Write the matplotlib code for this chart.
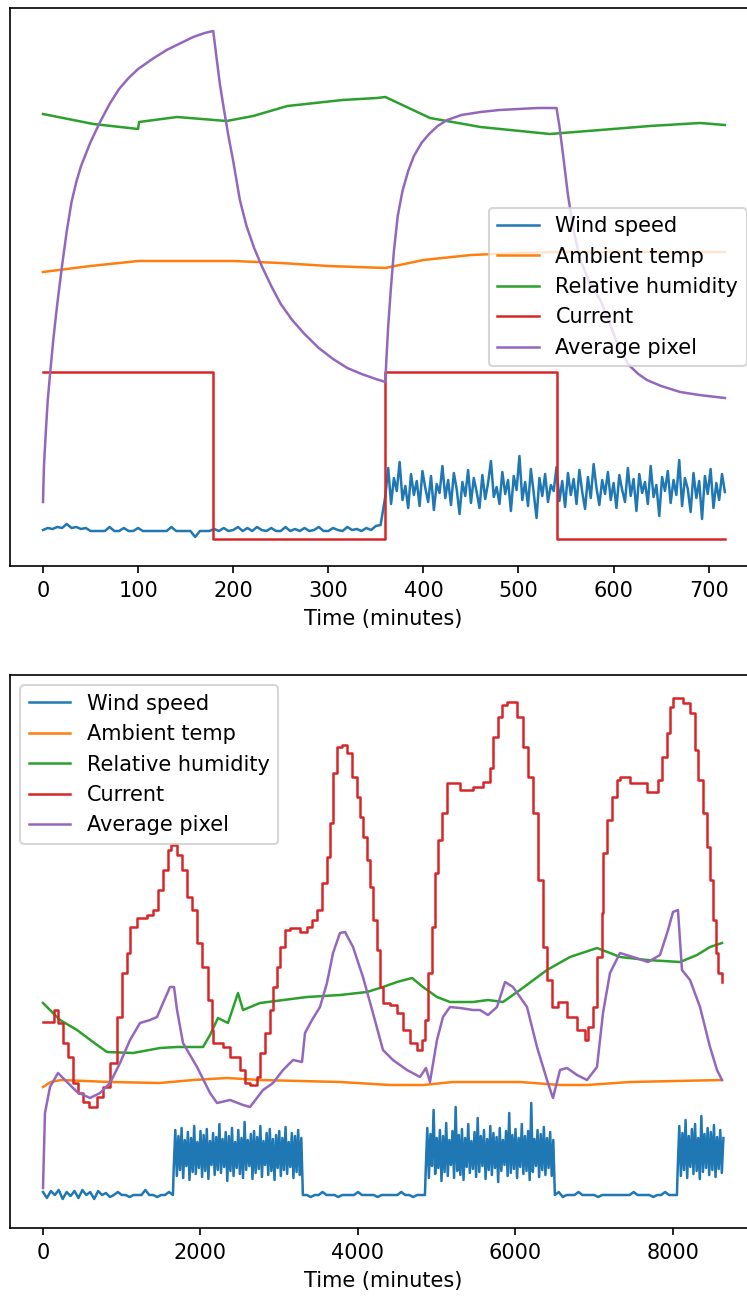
import numpy as np
import matplotlib.pyplot as plt

# ---- top panel: 12 hour run (arbitrary units) ----
top_wind_base_t = np.arange(0, 360, 5)
top_wind_base = [36, 38, 37, 39, 38, 42, 38, 39, 37, 38, 35, 35, 35, 35, 39, 35, 35, 38, 35, 35,
                 38, 35, 35, 35, 35, 35, 35, 39, 35, 35, 35, 35, 29, 35, 35, 35, 37, 35, 38, 35,
                 36, 39, 35, 38, 35, 39, 36, 35, 38, 35, 35, 39, 35, 37, 35, 38, 35, 36, 39, 35,
                 35, 38, 36, 35, 39, 36, 37, 35, 38, 36, 40, 41]
top_wind_gust_t = np.arange(360, 720, 3)
top_wind_gust = [70, 98, 62, 88, 75, 104, 66, 80, 58, 92, 71, 85, 60, 95, 78, 64, 90, 56, 82, 73,
                 100, 68, 86, 61, 93, 77, 52, 84, 70, 96, 63, 88, 74, 58, 91, 67, 83, 105, 69, 79,
                 62, 94, 72, 86, 55, 90, 76, 110, 66, 84, 60, 97, 73, 48, 88, 70, 92, 64, 81, 75,
                 99, 65, 85, 59, 93, 71, 87, 62, 96, 74, 57, 89, 68, 102, 78, 61, 86, 72, 94, 66,
                 83, 58, 91, 76, 64, 98, 70, 87, 55, 92, 73, 84, 62, 100, 69, 81, 50, 89, 75, 95,
                 63, 86, 71, 106, 60, 88, 77, 54, 93, 68, 85, 47, 90, 72, 97, 58, 83, 66, 92, 74]

top_temp_t = [0, 50, 100, 150, 200, 250, 300, 360, 400, 450, 500, 540, 717]
top_temp = [294, 300, 305, 305, 305, 303, 300, 298, 306, 311, 313, 314, 314]

top_hum_t = [0, 53, 100, 101, 141, 193, 221, 257, 315, 351, 360, 407, 460, 533, 586, 638, 691, 717]
top_hum = [452, 442, 437, 444, 449, 445, 450, 460, 466, 468, 469, 448, 439, 432, 436, 440, 443, 441]

top_cur_t = [0, 179, 360, 540, 717]
top_cur = [194, 27, 194, 27, 27]

top_pix_t = [0, 1, 3, 5, 8, 11, 15, 20, 25, 30, 35, 40, 50, 60, 70, 80, 90, 100, 115, 130, 145, 158, 170, 179,
             182, 186, 190, 195, 200, 207, 214, 222, 230, 240, 250, 262, 275, 290, 305, 320, 335, 350, 360,
             361, 363, 366, 369, 373, 378, 384, 390, 398, 406, 415, 425, 440, 460, 480, 500, 520, 540,
             543, 547, 552, 558, 565, 575, 586, 597, 607, 617, 626, 635, 650, 670, 690, 717]
top_pix = [64, 100, 135, 166, 198, 228, 262, 300, 335, 364, 384, 400, 424, 444, 462, 477, 488, 497, 507, 516, 523, 529, 533, 535,
           512, 482, 458, 430, 405, 366, 340, 318, 300, 280, 262, 246, 232, 218, 207, 198, 192, 187, 184,
           205, 240, 280, 315, 350, 375, 395, 410, 423, 432, 440, 446, 451, 454, 456, 457, 458, 458,
           440, 410, 371, 335, 306, 283, 266, 240, 215, 200, 192, 186, 180, 174, 171, 168]

# ---- bottom panel: long run ----
bot_base_a = [36, 30, 37, 33, 38, 29, 36, 32, 37, 30, 38, 33, 36, 29, 37, 33, 35, 31, 33, 36,
              33, 33, 31, 33, 33, 33, 38, 33, 33, 31, 33, 33, 36, 33]
bot_block_1 = [60, 98, 52, 92, 58, 100, 50, 88, 62, 96, 48, 90, 56, 102, 54, 86, 60, 97, 51, 93,
               57, 99, 49, 87, 63, 95, 53, 91, 58, 104, 55, 89, 61, 96, 47, 92, 57, 100, 52, 86,
               60, 98, 54, 90, 50, 106, 58, 88, 62, 94, 49, 97, 55, 91, 59, 102, 51, 87, 63, 95,
               53, 99, 57, 89, 48, 93, 60, 97, 52, 90, 58, 101, 54, 86, 61, 95, 50, 92, 56, 98,
               53, 90]
bot_base_b = [33, 33, 31, 33, 33, 36, 33, 33, 33, 31, 33, 33, 33, 33, 36, 33, 33, 33, 33, 31,
              33, 33, 33, 33, 33, 36, 33, 33, 31, 33, 33, 33]
bot_block_2 = [58, 100, 50, 94, 62, 118, 54, 90, 60, 98, 47, 92, 56, 105, 52, 88, 63, 97, 50, 121,
               57, 93, 53, 99, 48, 90, 61, 104, 55, 87, 59, 96, 51, 110, 56, 92, 62, 98, 49, 89,
               58, 102, 53, 95, 60, 91, 46, 100, 57, 88, 63, 97, 52, 115, 55, 93, 59, 99, 50, 90,
               61, 104, 54, 92, 57, 97, 48, 125, 56, 89, 62, 98, 51, 94, 58, 101, 53, 90, 60, 96,
               52, 88]
bot_base_c = [33, 36, 31, 33, 33, 33, 36, 33, 33, 33, 33, 31, 33, 33, 33, 33, 33, 33, 33, 33,
              36, 33, 33, 33, 33, 31, 33, 33, 36, 33, 33, 33]
bot_block_3 = [60, 102, 52, 95, 58, 108, 50, 92, 61, 99, 54, 104, 57, 90, 49, 112, 56, 94, 60, 100,
               53, 96, 58, 103, 51, 91, 59, 98, 55, 90]

bot_wind_t = np.concatenate([np.arange(0, 1700, 50), np.arange(1660, 3300, 20),
                             np.arange(3300, 4900, 50), np.arange(4860, 6500, 20),
                             np.arange(6500, 8100, 50), np.arange(8060, 8660, 20)])
bot_wind = bot_base_a + bot_block_1 + bot_base_b + bot_block_2 + bot_base_c + bot_block_3

bot_temp_t = [0, 100, 228, 851, 1486, 1905, 2337, 2756, 3771, 4406, 4825, 5206, 6057, 6565, 6908, 7454, 8622]
bot_temp = [141, 146, 148, 146, 145, 148, 150, 148, 146, 143, 143, 146, 146, 143, 143, 146, 148]

bot_hum_t = [0, 216, 432, 635, 813, 1143, 1486, 1702, 2032, 2121, 2222, 2349, 2476, 2540, 2756,
             3352, 3771, 4114, 4317, 4495, 4686, 4825, 5003, 5168, 5460, 5651, 5841, 6057, 6400,
             6692, 7035, 7200, 7327, 7670, 8089, 8305, 8470, 8622]
bot_hum = [225, 208, 198, 186, 176, 175, 180, 181, 181, 193, 210, 205, 235, 218, 225,
           231, 233, 236, 241, 246, 250, 241, 231, 226, 226, 228, 226, 238, 258,
           271, 280, 275, 271, 268, 266, 273, 281, 285]

bot_cur_t = [0, 114, 140, 190, 254, 317, 381, 444, 508, 584, 686, 762, 851, 940, 1003, 1067, 1105,
             1194, 1321, 1397, 1460, 1524, 1587, 1625, 1702, 1765, 1829, 1892, 1956, 2019, 2095,
             2146, 2159, 2286, 2375, 2502, 2565, 2629, 2717, 2756, 2819, 2883, 2921, 2971, 3010,
             3073, 3137, 3263, 3352, 3416, 3479, 3543, 3606, 3644, 3683, 3733, 3797, 3860, 3924,
             3987, 4025, 4063, 4114, 4152, 4190, 4241, 4279, 4317, 4406, 4495, 4571, 4660, 4749,
             4813, 4851, 4889, 4940, 4978, 5016, 5067, 5130, 5295, 5460, 5587, 5676, 5714, 5778,
             5829, 5892, 6019, 6095, 6159, 6222, 6286, 6349, 6400, 6463, 6540, 6654, 6781, 6883,
             6921, 6984, 7035, 7098, 7111, 7162, 7225, 7289, 7327, 7454, 7670, 7810, 7860, 7924,
             7962, 8000, 8127, 8216, 8279, 8317, 8381, 8432, 8470, 8508, 8546, 8571, 8622]
bot_cur = [206, 206, 218, 205, 185, 171, 145, 135, 126, 121, 131, 141, 165, 211, 255, 275, 301,
           310, 313, 318, 338, 358, 378, 383, 373, 358, 331, 318, 285, 261, 228,
           198, 185, 181, 171, 158, 145, 143, 151, 175, 195, 218, 241, 261, 281,
           298, 300, 296, 301, 308, 318, 345, 371, 405, 455, 481, 483, 475, 451,
           431, 411, 391, 368, 341, 308, 278, 241, 225, 223, 215, 198, 185, 178,
           188, 208, 255, 301, 355, 388, 415, 445, 438, 441, 446, 460, 491, 511,
           523, 526, 511, 481, 451, 415, 348, 281, 248, 221, 226, 211, 198, 188,
           201, 221, 271, 315, 375, 408, 431, 448, 451, 445, 436, 448, 471, 495,
           521, 530, 525, 515, 478, 448, 415, 381, 348, 308, 275, 255, 246]

bot_pix_t = [0, 25, 89, 190, 305, 432, 597, 724, 851, 978, 1105, 1232, 1359, 1448, 1524, 1613,
             1664, 1702, 1778, 1956, 2121, 2210, 2375, 2540, 2629, 2794, 2921, 3048, 3175, 3289,
             3327, 3416, 3517, 3606, 3683, 3771, 3835, 3937, 4063, 4190, 4317, 4444, 4622, 4787,
             4863, 4914, 5003, 5079, 5168, 5295, 5460, 5549, 5651, 5765, 5867, 5968, 6146, 6273,
             6400, 6476, 6565, 6654, 6781, 6908, 7035, 7111, 7200, 7327, 7492, 7683, 7835, 7937,
             8000, 8063, 8114, 8216, 8343, 8470, 8559, 8622]
bot_pix = [40, 115, 141, 155, 146, 136, 130, 135, 145, 165, 188, 205, 208, 211, 225, 241,
           241, 218, 185, 161, 135, 125, 128, 123, 121, 138, 145, 158, 168, 166,
           195, 208, 221, 245, 275, 295, 296, 281, 251, 215, 178, 168, 158, 151,
           160, 146, 188, 211, 221, 220, 218, 218, 213, 221, 246, 241, 221, 181,
           148, 130, 158, 160, 153, 148, 161, 215, 255, 275, 271, 266, 273, 298,
           316, 318, 258, 248, 221, 181, 158, 148]

labels = ['Wind speed', 'Ambient temp', 'Relative humidity', 'Current', 'Average pixel']

plt.rcParams['lines.linewidth'] = 1.2

fig = plt.figure(figsize=(747 / 150, 1296 / 150), dpi=150)

# top panel (right spine falls just outside the picture, as in the original)
ax1 = fig.add_axes([10 / 747, 1 - 566 / 1296, 1.0, 558 / 1296])
ax1.plot(np.concatenate([top_wind_base_t, top_wind_gust_t]), top_wind_base + top_wind_gust, label=labels[0])
ax1.plot(top_temp_t, top_temp, label=labels[1])
ax1.plot(top_hum_t, top_hum, label=labels[2])
ax1.plot(top_cur_t, top_cur, drawstyle='steps-post', label=labels[3])
ax1.plot(top_pix_t, top_pix, label=labels[4])
ax1.set_xlim(-34.7, -34.7 + 747 / 0.951)
ax1.set_ylim(0, 558)
ax1.set_yticks([])
ax1.set_xlabel('Time (minutes)')
ax1.legend(loc='center right')

# bottom panel
ax2 = fig.add_axes([10 / 747, 1 - 1228 / 1296, 1.0, 553 / 1296])
ax2.plot(bot_wind_t, bot_wind, label=labels[0])
ax2.plot(bot_temp_t, bot_temp, label=labels[1])
ax2.plot(bot_hum_t, bot_hum, label=labels[2])
ax2.plot(bot_cur_t, bot_cur, drawstyle='steps-post', label=labels[3])
ax2.plot(bot_pix_t, bot_pix, label=labels[4])
ax2.set_xlim(-419, -419 + 747 / 0.07875)
ax2.set_ylim(0, 553)
ax2.set_yticks([])
ax2.set_xticks([0, 2000, 4000, 6000, 8000])
ax2.set_xlabel('Time (minutes)')
ax2.legend(loc='upper left')

fig.savefig('out.png', dpi=150)
